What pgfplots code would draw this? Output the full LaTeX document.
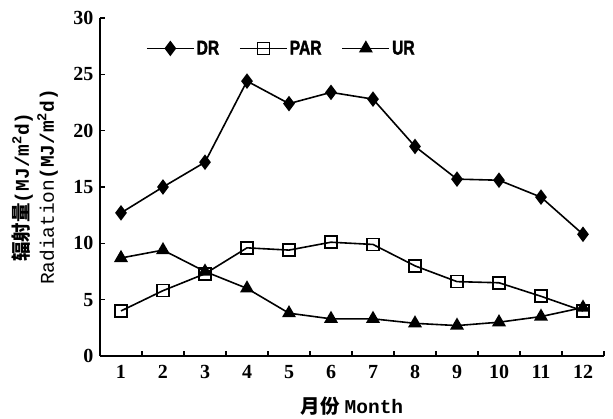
\documentclass[border=0pt]{standalone}
\usepackage{fontspec}
\setmainfont{Liberation Serif}
\setmonofont{Liberation Mono}
\newfontfamily\cjk{Noto Sans CJK SC}
\newfontfamily\tickfont{Liberation Serif Bold}
\newfontfamily\legfont[FakeBold=2]{Liberation Sans Bold}
\usepackage{pgfplots}
\pgfplotsset{compat=1.18}
\newcommand{\leg}[1]{\scalebox{0.78}[1]{\legfont\bfseries #1}}

\pgfplotstableread{
m  DR    PAR   UR
1  12.7  4.0   8.7
2  15.0  5.8   9.4
3  17.2  7.3   7.5
4  24.4  9.6   6.0
5  22.4  9.4   3.8
6  23.4  10.1  3.3
7  22.8  9.9   3.3
8  18.6  8.0   2.9
9  15.7  6.6   2.7
10 15.6  6.5   3.0
11 14.1  5.3   3.5
12 10.8  4.0   4.3
}\radiation

\begin{document}
\begin{tikzpicture}
\begin{axis}[
    scale only axis,
    width=504pt, height=338pt,
    xmin=0.5, xmax=12.5,
    ymin=0, ymax=30,
    axis x line*=bottom,
    axis y line*=left,
    axis line style={line width=1.3pt},
    tick align=inside,
    xtick={1,...,12},
    major x tick style={draw=none},
    minor xtick={1.5,2.5,...,12.5},
    minor tick length=5pt,
    ytick={0,5,...,30},
    major tick length=5pt,
    tick style={line width=1.3pt, black},
    tick label style={font=\fontsize{20}{20}\selectfont\tickfont},
    xticklabel style={yshift=-6pt},
    yticklabel style={xshift=-3pt},
    /pgf/number format/assume math mode=true,
    xlabel={{\cjk\bfseries 月份} \texttt{\bfseries Month}},
    xlabel style={font=\fontsize{19.5}{19.5}\selectfont, at={(axis description cs:0.5,0)}, anchor=center, yshift=-50pt},
    ylabel={{\cjk\bfseries 辐射量}\texttt{\bfseries (MJ/m\textsuperscript{2}d)}\\\texttt{Radiation\bfseries(MJ/m\textsuperscript{2}d)}},
    ylabel style={font=\fontsize{19.5}{25}\selectfont, align=center, at={(axis description cs:0,0.5)}, anchor=center, yshift=65pt},
    legend style={draw=none, fill=none, inner sep=0pt, at={(0.091,0.91)}, anchor=west,
        legend columns=3, font=\fontsize{20}{20}\selectfont,
        /tikz/every even column/.append style={column sep=18pt}},
    legend cell align=left,
    legend image code/.code={\draw[mark repeat=2, mark phase=2] plot coordinates {(0pt,0pt) (23.5pt,0pt) (47pt,0pt)};},
    every axis plot/.append style={line width=1.6pt, black},
]
\addplot[mark=diamond*, mark size=6.5pt, mark options={fill=black}] table[x=m, y=DR] {\radiation};
\addplot[mark=square, mark size=6pt, mark options={fill=white}] table[x=m, y=PAR] {\radiation};
\addplot[mark=triangle*, mark size=6.5pt, mark options={fill=black}] table[x=m, y=UR] {\radiation};
\legend{\leg{DR}, \leg{PAR}, \leg{UR}}
\end{axis}
\pgfresetboundingbox
\path ([shift={(-100pt,-62pt)}]current axis.south west) rectangle ([shift={(9pt,18pt)}]current axis.north east);
\end{tikzpicture}
\end{document}
